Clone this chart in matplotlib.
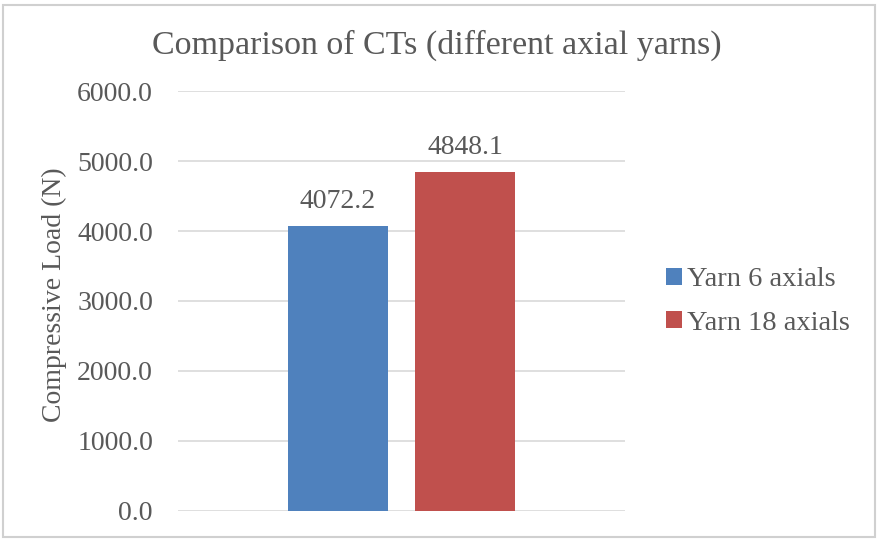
import matplotlib.pyplot as plt
from matplotlib.patches import Rectangle

# Compressive load of the CTs for the two axial yarn counts
series = ['Yarn 6 axials', 'Yarn 18 axials']
loads = [4072.2, 4848.1]
colors = ['#4F81BD', '#C0504D']
yticks = [0, 1000, 2000, 3000, 4000, 5000, 6000]

plt.rcParams['font.family'] = ['Liberation Serif', 'DejaVu Serif']
text_color = '#595959'

fig = plt.figure(figsize=(8.78, 5.4), dpi=100)
ax = fig.add_axes([178 / 878, 1 - 511 / 540, 447 / 878, 420 / 540])

width = 0.224
offsets = [-0.142, 0.142]
for name, val, col, off in zip(series, loads, colors, offsets):
    ax.bar(off, val, width=width, color=col, label=name, zorder=3)
    ax.annotate(f'{val:.1f}', (off, val), xytext=(0, 13), textcoords='offset points',
                ha='center', va='baseline', fontsize=20, color=text_color)

ax.set_xlim(-0.5, 0.5)
ax.set_ylim(0, 6000)
ax.set_yticks(yticks)
ax.set_yticklabels([f'{t:.1f}' for t in yticks])
ax.set_xticks([])
ax.tick_params(axis='y', length=0, pad=18, labelsize=20, labelcolor=text_color)
ax.grid(axis='y', color='#D9D9D9', linewidth=1.2, zorder=0)
for s in ax.spines.values():
    s.set_visible(False)

fig.text(54 / 878, 1 - 295 / 540, 'Compressive Load (N)', rotation=90,
         ha='center', va='center', fontsize=20, color=text_color)
fig.text(437 / 878, 1 - 45 / 540, 'Comparison of CTs (different axial yarns)',
         ha='center', va='center', fontsize=24.5, color=text_color)

leg = fig.legend(loc='center left', bbox_to_anchor=(666 / 878, 1 - 301.5 / 540),
                 frameon=False, fontsize=20.5, handlelength=0.56, handleheight=0.56,
                 handletextpad=0.18, labelspacing=0.65, borderpad=0, borderaxespad=0)
for t in leg.get_texts():
    t.set_color(text_color)

# chart frame
fig.patches.append(Rectangle((3 / 878, 3 / 540), 872 / 878, 532 / 540,
                             transform=fig.transFigure, fill=False,
                             edgecolor='#D0D0D0', linewidth=1.5))

fig.savefig('out.png', dpi=100)
